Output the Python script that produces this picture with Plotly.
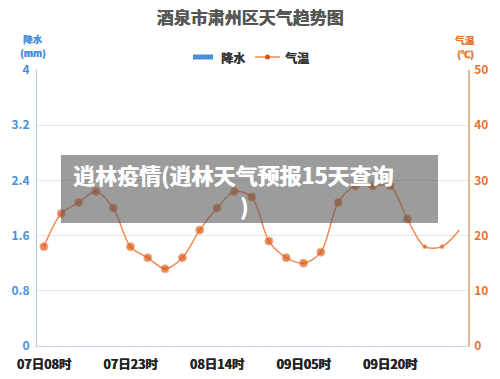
import plotly.graph_objects as go

times = ["07日08时","07日11时","07日14时","07日17时","07日20时","07日23时",
         "08日02时","08日05时","08日08时","08日11时","08日14时","08日17时",
         "08日20时","08日23时","09日02时","09日05时","09日08时","09日11时",
         "09日14时","09日17时","09日20时","09日23时","10日02时","10日05时","10日08时"]
temps = [18,24,26,28,25,18,16,14,16,21,25,28,27,19,16,15,17,26,29,29,29,23,18,18,21]
precip = [0]*len(times)
tick_idx = [0,5,10,15,20]
left_ticks = [0,0.8,1.6,2.4,3.2,4]
right_ticks = [0,10,20,30,40,50]

xs = list(range(len(times)))
msizes = [8]*22 + [4,4,0]

BLUE = "#4a8fd8"
ORANGE = "#e8732e"
FONT = "Noto Sans CJK SC"

def f(size, color, bold=True):
    d = dict(family=FONT, size=size, color=color, weight=700)
    if bold:
        d["shadow"] = "0.6px 0px 0px %s" % color
    return d

fig = go.Figure()
fig.add_trace(go.Bar(x=xs, y=precip, name="降水", marker_color=BLUE, yaxis="y", showlegend=False))
fig.add_trace(go.Scatter(x=xs, y=temps, name="气温", yaxis="y2", mode="lines+markers",
                         line=dict(color="#ef8a55", width=1.5, shape="spline", smoothing=0.9),
                         marker=dict(color="#d9530f", size=msizes), showlegend=False))

L, R, T, B = 37, 32, 70, 33
PW, PH = 500 - L - R, 379 - T - B
def px(x):
    return (x - L) / PW
def py(y):
    return (379 - B - y) / PH

fig.update_layout(
    width=500, height=379,
    margin=dict(l=L, r=R, t=T, b=B),
    paper_bgcolor="white", plot_bgcolor="white",
    font=dict(family=FONT, size=11),
    title=dict(text="酒泉市肃州区天气趋势图", x=0.5, xanchor="center", y=0.953, yanchor="middle",
               font=f(17, "#555555")),
    showlegend=False,
    xaxis=dict(range=[-0.4, 24.5], tickvals=[xs[i] for i in tick_idx],
               ticktext=[times[i] for i in tick_idx], automargin=False,
               tickfont=f(12.5, "#222222"), showgrid=False, ticklabelstandoff=7,
               showline=True, linecolor="#c8d4e4", linewidth=1, ticks="", zeroline=False),
    yaxis=dict(range=[0, 4], tickvals=left_ticks, ticktext=["%g" % v for v in left_ticks],
               tickfont=f(12, BLUE, False), showgrid=True, gridcolor="#e6e6e6", automargin=False,
               ticklabelstandoff=4,
               showline=True, linecolor="#a8c4e8", linewidth=1, zeroline=False, ticks=""),
    yaxis2=dict(range=[0, 50], tickvals=right_ticks, ticktext=["%g" % v for v in right_ticks],
                tickfont=f(12, ORANGE, False), overlaying="y", side="right", automargin=False,
                ticklabelstandoff=2,
                showgrid=False, showline=True, linecolor="#f0b48c", linewidth=1.5, zeroline=False,
                ticks=""),
)

# axis titles
for txt, x, y, c in [("降水", 33, 39, BLUE), ("(mm)", 33, 52.5, BLUE),
                     ("气温", 465, 40, ORANGE), ("(℃)", 465, 54, ORANGE)]:
    fig.add_annotation(text=txt, xref="paper", yref="paper", x=px(x), y=py(y),
                       xanchor="center", yanchor="middle", showarrow=False, borderpad=0,
                       font=f(9.5, c), align="center")

# legend (drawn manually)
fig.add_shape(type="rect", xref="paper", yref="paper", x0=px(193), x1=px(213), y0=py(59.5), y1=py(54.5),
              fillcolor=BLUE, line_width=0)
fig.add_annotation(text="降水", xref="paper", yref="paper", x=px(219), y=py(57), xanchor="left",
                   yanchor="middle", showarrow=False, font=f(12, "#333333"))
fig.add_shape(type="line", xref="paper", yref="paper", x0=px(255), x1=px(280), y0=py(57), y1=py(57),
              line=dict(color="#ef8a55", width=1.5))
fig.add_shape(type="circle", xref="paper", yref="paper", x0=px(265), x1=px(270), y0=py(59.5), y1=py(54.5),
              fillcolor="#d9530f", line_width=0)
fig.add_annotation(text="气温", xref="paper", yref="paper", x=px(283), y=py(57), xanchor="left",
                   yanchor="middle", showarrow=False, font=f(12, "#333333"))

# watermark overlay
fig.add_shape(type="rect", xref="paper", yref="paper", x0=px(61), x1=px(438),
              y0=py(223), y1=py(155), fillcolor="rgba(90,90,90,0.6)", line_width=0,
              layer="above")
fig.add_annotation(text="逍林疫情(逍林天气预报15天查询", xref="paper", yref="paper",
                   x=px(71), y=py(174), xanchor="left", yanchor="middle", showarrow=False,
                   font=f(22, "white"))
fig.add_annotation(text=")", xref="paper", yref="paper",
                   x=px(244), y=py(205), xanchor="center", yanchor="middle", showarrow=False,
                   font=f(22, "white"))

fig.write_html("out.html")
